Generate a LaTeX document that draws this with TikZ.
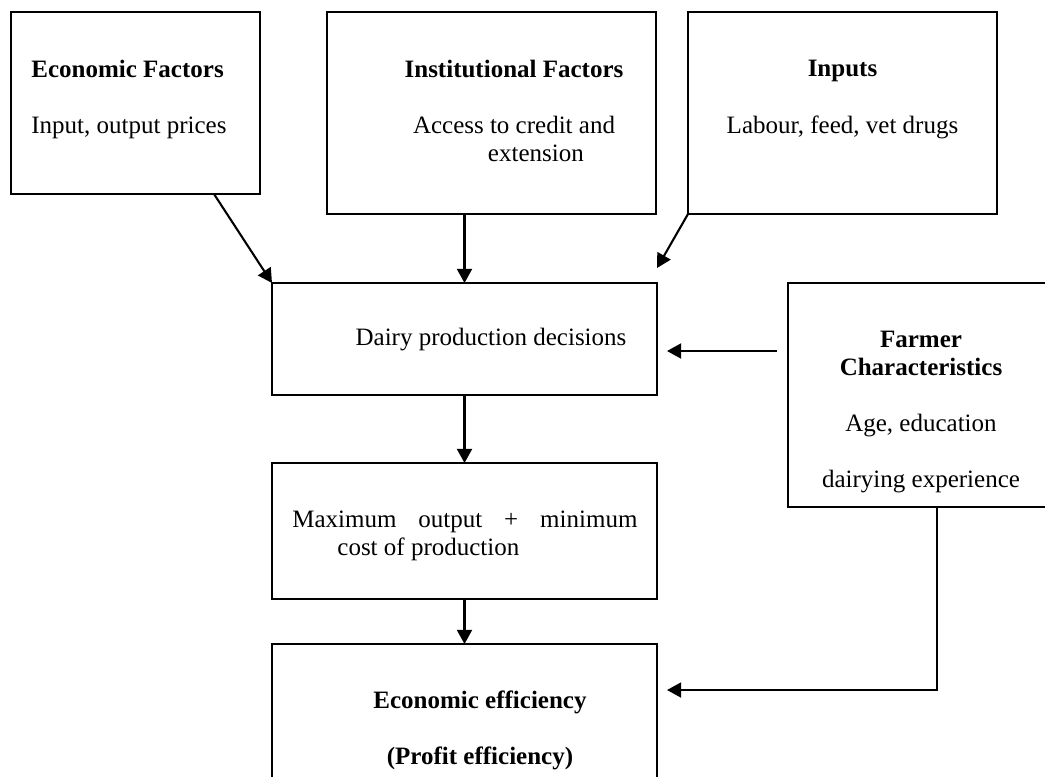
\documentclass[tikz,border=0pt]{standalone}
\usepackage{fontspec}
\setmainfont{Liberation Serif}
\usetikzlibrary{arrows.meta,calc}
\tikzset{
  box/.style={draw,line width=1pt,inner sep=0pt,outer sep=0pt},
  dims/.style 2 args={minimum width=#1*0.48pt,minimum height=#2*0.48pt},
  txt/.style={font=\fontsize{12}{13.44}\selectfont,align=center,inner sep=0pt},
  flow/.style={-{Triangle[length=6.8pt,width=7.2pt]},line width=1pt}
}

\begin{document}
\begin{tikzpicture}[x=0.48pt,y=-0.48pt]
\clip (0,0) rectangle (1045,776);
% boxes
\node[box,dims={249}{182}] (econ) at (135.5,103) {};
\node[box,dims={329}{202}] (inst) at (491.5,113) {};
\node[box,dims={309}{202}] (inputs) at (842.5,113) {};
\node[box,dims={385}{112}] (dairy) at (464.5,339) {};
\node[box,dims={385}{136}] (maxout) at (464.5,531) {};
\node[box,dims={385}{156}] (eff) at (464.5,722) {};
\node[box,dims={298}{224}] (farmer) at (937,395) {};
% texts
\node[txt,align=left,anchor=west] (econT) at (31,99) {\textbf{Economic Factors}\\[13.44pt]Input, output prices};
\node[txt] (instT) at (514,110.5) {\textbf{Institutional Factors}\\[13.44pt]Access to credit and\\\hspace*{21pt}extension};
\node[txt] (inputsT) at (842.5,99.5) {\textbf{Inputs}\\[13.44pt]Labour, feed, vet drugs};
\node[txt,anchor=base] (dairyT) at (491,345) {Dairy production decisions};
\node[txt,align=left,anchor=west] (maxoutT) at (292,535.5) {\makebox[165.6pt][s]{Maximum output + minimum}\\\hspace*{21.6pt}cost of production};
\node[txt] (effT) at (480,730) {\textbf{Economic efficiency}\\[13.44pt]\textbf{(Profit efficiency)}};
\node[txt] (farmerT) at (921,411.5) {\textbf{Farmer}\\\textbf{Characteristics}\\[13.44pt]Age, education\\[13.44pt]dairying experience};
% arrows
\coordinate (fromF) at ($(farmer.west)+(-11,-44)$);
\coordinate (toD) at ($(dairy.east)+(10,12)$);
\coordinate (toE) at ($(eff.north east)+(10,46)$);
\draw[flow] ($(econ.south east)+(-46,0)$) -- (dairy.north west);
\draw[flow] (inst.south -| dairy.north) -- (dairy.north);
\draw[flow] (inputs.south west) -- ($(dairy.north east)+(0,-15)$);
\draw[flow] (fromF) -- (toD);
\draw[flow] (dairy.south) -- (maxout.north);
\draw[flow] (maxout.south) -- (eff.north);
\draw[flow] (farmer.south) |- (toE);
\end{tikzpicture}
\end{document}
